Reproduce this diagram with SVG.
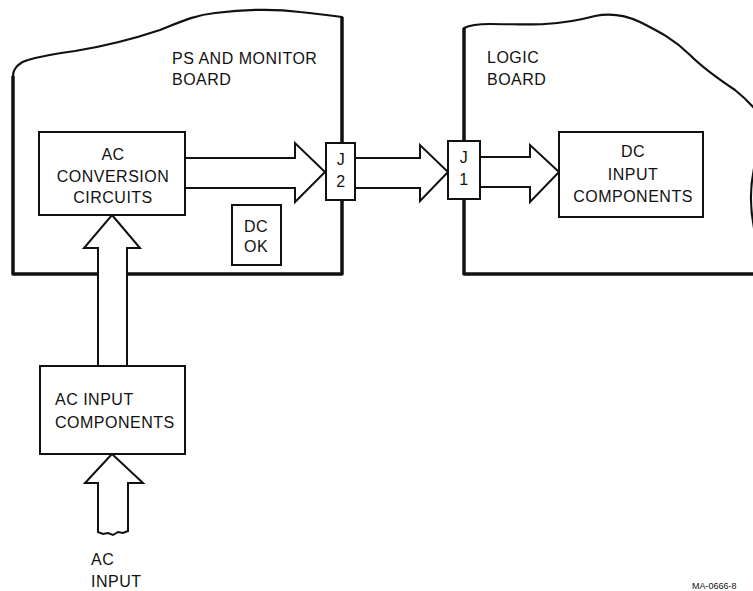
<svg xmlns="http://www.w3.org/2000/svg" width="753" height="591" viewBox="0 0 753 591">
<style>
text{font-family:"Liberation Sans",Arial,sans-serif;font-size:16px;letter-spacing:0.5px;fill:#111}
.c{text-anchor:middle}
.board{fill:none;stroke:#111;stroke-width:3.5;stroke-linejoin:round}
.edge{fill:none;stroke:#111;stroke-width:2.2;stroke-linejoin:round;stroke-linecap:round}
.box{fill:#fff;stroke:#111;stroke-width:2}
.arrow{fill:#fff;stroke:#111;stroke-width:2;stroke-linejoin:miter}
</style>
<rect width="753" height="591" fill="#fff"/>
<g id="ps-monitor-board">
<path class="board" d="M342,17 L342,274 L13,274 L13,76"/>
<path class="edge" d="M13,76 C13,68 20,62 28,60 C45,55 60,53 75,51 C100,47 130,40 160,30 C180,22 195,15 215,13 C240,10 270,8 300,12 C320,14 335,16 342,17"/>
<text x="172" y="64">PS AND MONITOR</text>
<text x="172" y="85">BOARD</text>
</g>
<g id="logic-board">
<path class="board" d="M464,28 L464,274 L760,274"/>
<path class="edge" d="M464,28 C470,25 480,24 490,24 C510,24 530,25 545,24 C565,23 580,20 595,16 C610,13 625,15 640,22 C660,32 675,40 690,55 C705,70 720,80 735,90 C745,98 752,105 760,115"/>
<path class="edge" d="M756,160 Q747,193 754,228"/>
<text x="487" y="63">LOGIC</text>
<text x="487" y="85">BOARD</text>
</g>
<g id="connectors">
<polygon class="arrow" points="185,158 295,158 295,143 325,172 295,202 295,188 185,188"/>
<polygon class="arrow" points="355,158 420,158 420,145 448,172 420,201 420,188 355,188"/>
<polygon class="arrow" points="480,157 530,157 530,145 559,172 530,202 530,187 480,187"/>
<polygon class="arrow" points="112,215 140,248 127,248 127,366 98,366 98,248 84,248"/>
<polygon class="arrow" points="112,454 143,483 128,483 128,531 123,533 118,532 113,535 108,533 103,534 98,532 98,483 85,483"/>
</g>
<g id="ac-conversion">
<rect class="box" x="39" y="132" width="146" height="83"/>
<text class="c" x="113" y="160">AC</text>
<text class="c" x="113" y="182">CONVERSION</text>
<text class="c" x="113" y="203">CIRCUITS</text>
</g>
<g id="dc-ok">
<rect class="box" x="232" y="205" width="49" height="60"/>
<text class="c" x="256" y="232">DC</text>
<text class="c" x="256" y="252">OK</text>
</g>
<g id="j2">
<rect class="box" x="326" y="143" width="29" height="57"/>
<text class="c" x="341" y="165">J</text>
<text class="c" x="341" y="187">2</text>
</g>
<g id="j1">
<rect class="box" x="448" y="141" width="32" height="58"/>
<text class="c" x="464" y="163">J</text>
<text class="c" x="464" y="185">1</text>
</g>
<g id="dc-input">
<rect class="box" x="559" y="132" width="144" height="85"/>
<text class="c" x="633" y="157">DC</text>
<text class="c" x="633" y="180">INPUT</text>
<text class="c" x="633" y="202">COMPONENTS</text>
</g>
<g id="ac-input-components">
<rect class="box" x="40" y="366" width="145" height="88"/>
<text x="55" y="405">AC INPUT</text>
<text x="55" y="428">COMPONENTS</text>
</g>
<g id="ac-input-label">
<text x="91" y="565">AC</text>
<text x="91" y="587">INPUT</text>
</g>
<text x="692" y="589" style="font-size:9px;letter-spacing:0">MA-0666-8</text>
</svg>
